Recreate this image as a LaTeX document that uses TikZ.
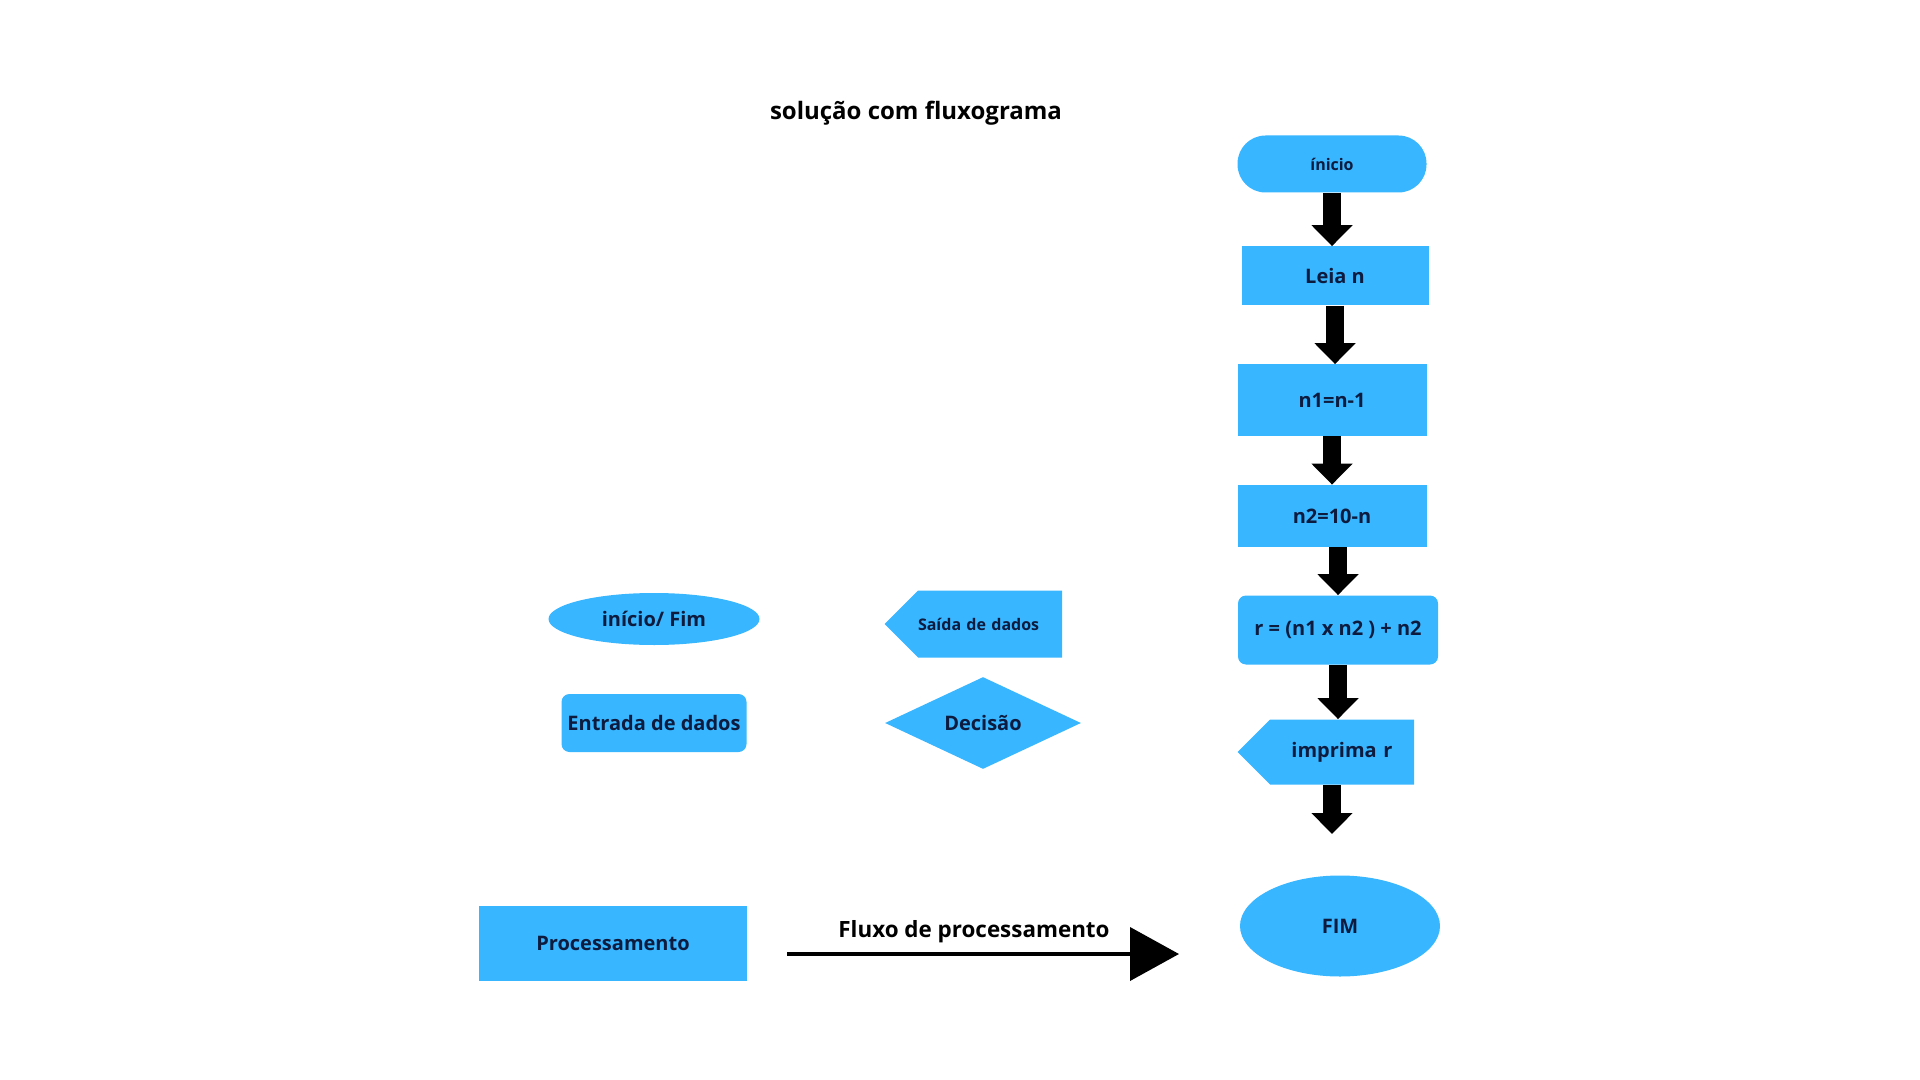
\documentclass[tikz,border=0pt]{standalone}
\usepackage{fontspec}
\setmainfont{Open Sans}
\usetikzlibrary{arrows.meta,shapes.geometric,shapes.symbols}
\definecolor{flowblue}{HTML}{38B6FF}
\definecolor{flowtext}{HTML}{0D1B3E}
\tikzset{
  base/.style={fill=flowblue, text=flowtext, inner sep=0pt,
    font=\fontsize{10}{12}\selectfont\bfseries},
  startstop/.style={base, ellipse},
  process/.style={base, rectangle},
  roundproc/.style={base, rectangle, rounded corners=4pt},
  output/.style={base, signal, signal to=west, signal pointer angle=90,
    text width=72pt, minimum height=32.5pt},
  decision/.style={base, diamond, aspect=2.13},
  blockarrow/.style={line width=9pt, -{Triangle[width=20pt,length=10.5pt]}}
}
\begin{document}
\begin{tikzpicture}[x=0.5pt,y=-0.5pt]
  \useasboundingbox (0,0) rectangle (1920,1080);
  % Title
  \node (title) at (916,113) {\fontsize{12}{14}\selectfont\bfseries solução com fluxograma};
  % Flowchart
  \node (inicio) [base, rounded corners=14pt, minimum width=94.5pt, minimum height=28.5pt,
    font=\fontsize{8}{10}\selectfont\bfseries] at (1332,164) {ínicio};
  \node (leia) [process, minimum width=93.5pt, minimum height=29.5pt] at (1335,276) {Leia n};
  \node (calcA) [process, minimum width=94.5pt, minimum height=35.5pt] at (1332,400) {n1=n-1};
  \node (calcB) [process, minimum width=94.5pt, minimum height=31pt] at (1332,516) {n2=10-n};
  \node (result) [roundproc, minimum width=100pt, minimum height=34.5pt] at (1338,630) {r = (n1 x n2 ) + n2};
  \node (imprima) [output, align=center] at (1342,752) {imprima r};
  \node (fim) [startstop, minimum width=100pt, minimum height=50.5pt] at (1340,926) {FIM};
  % Arrows
  \draw[blockarrow] (inicio.south) -- (inicio.south |- leia.north);
  \draw[blockarrow] (leia.south) -- (leia.south |- calcA.north);
  \draw[blockarrow] (calcA.south) -- (calcA.south |- calcB.north);
  \draw[blockarrow] (result.north |- calcB.south) -- (result.north);
  \draw[blockarrow] (result.south) -- (result.south |- imprima.north);
  \coordinate (fimTip) at (1332,834);
  \draw[blockarrow] (fimTip |- imprima.south) -- (fimTip);
  % Legend
  \node (legFim) [startstop, minimum width=105.5pt, minimum height=26pt] at (654,619) {início/ Fim};
  \node (legSaida) [output, align=left, minimum height=33.5pt,
    font=\fontsize{8}{10}\selectfont\bfseries] at (990,624) {Saída de dados};
  \node (legEntrada) [roundproc, minimum width=92.5pt, minimum height=29pt] at (654,723) {Entrada de dados};
  \node (legDecisao) [decision, minimum width=98pt, minimum height=46pt] at (983,723) {Decisão};
  \node (legProc) [process, minimum width=134pt, minimum height=37.5pt] at (613,943) {Processamento};
  \coordinate (flowStart) at (787,954);
  \coordinate (flowEnd) at (1179,954);
  \draw[line width=2pt, -{Triangle[width=26.5pt,length=24.5pt]}] (flowStart) -- (flowEnd);
  \node (flowLabel) at (974,932) {\fontsize{11.2}{13}\selectfont\bfseries Fluxo de processamento};
\end{tikzpicture}
\end{document}
